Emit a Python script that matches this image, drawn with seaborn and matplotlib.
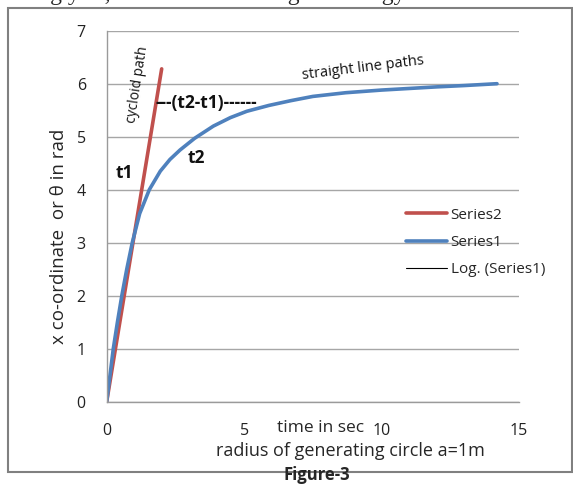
import numpy as np
import pandas as pd
import seaborn as sns
import matplotlib.pyplot as plt
from matplotlib.lines import Line2D
from matplotlib.patches import Rectangle

# data
series2_t = [0, 2.0]
series2_theta = [0, 6.28]
series1_t = [0, 0.12, 0.24, 0.39, 0.55, 0.73, 0.93, 1.2, 1.55, 1.95, 2.3, 2.67, 3.2, 3.88,
             4.5, 5.1, 5.9, 6.7, 7.5, 8.7, 10.0, 11.0, 12.0, 13.0, 14.2]
series1_theta = [0, 0.5, 1.0, 1.5, 2.0, 2.5, 3.0, 3.55, 4.0, 4.35, 4.57, 4.75, 4.97, 5.2,
                 5.36, 5.48, 5.59, 5.68, 5.76, 5.83, 5.88, 5.91, 5.94, 5.965, 6.0]
x_ticks = [0, 5, 10, 15]
y_ticks = [0, 1, 2, 3, 4, 5, 6, 7]

df1 = pd.DataFrame({'t': series1_t, 'theta': series1_theta})
df2 = pd.DataFrame({'t': series2_t, 'theta': series2_theta})

sns.set_theme(style='white')
plt.rcParams['font.family'] = ['Open Sans', 'DejaVu Sans']

W, H = 573, 484
fig = plt.figure(figsize=(W / 100, H / 100), dpi=100)


def fx(px):
    return px / W


def fy(py):
    return 1 - py / H


ax = fig.add_axes([fx(106.7), fy(401.7), fx(519) - fx(106.7), fy(30.7) - fy(401.7)])

red = '#C0504D'
blue = '#4F81BD'
sns.lineplot(data=df2, x='t', y='theta', ax=ax, color=red, lw=2.6, sort=False,
             solid_capstyle='round')
sns.lineplot(data=df1, x='t', y='theta', ax=ax, color=blue, lw=2.6, sort=False,
             solid_capstyle='round', solid_joinstyle='round')

ax.set_xlim(0, 15)
ax.set_ylim(0, 7)
ax.set_xticks(x_ticks)
ax.set_yticks(y_ticks)
ax.set_xlabel('')
ax.set_ylabel('')
ax.grid(axis='y', color='#a6a6a6', lw=1)
ax.set_axisbelow(True)
for s in ['top', 'right']:
    ax.spines[s].set_visible(False)
for s in ['left', 'bottom']:
    ax.spines[s].set_color('#9a9a9a')
    ax.spines[s].set_linewidth(1)
ax.tick_params(axis='both', direction='out', length=6, color='#9a9a9a', width=1,
               labelsize=11.5, labelcolor='#222222', pad=9)
ax.tick_params(axis='y', pad=9)

# annotations
ax.text(1.12, 5.99, 'cycloid path', rotation=81, fontsize=10, ha='center', va='center', color='#111111')
ax.text(1.76, 5.63, '---(t2-t1)------', fontsize=12.5, fontweight='bold', ha='left', va='center', color='#111111')
ax.text(0.64, 4.31, 't1', fontsize=12.5, fontweight='bold', ha='center', va='center', color='#111111')
ax.text(3.25, 4.59, 't2', fontsize=12.5, fontweight='bold', ha='center', va='center', color='#111111')
ax.text(9.32, 6.30, 'straight line paths', rotation=7, fontsize=10.5, ha='center', va='center', color='#111111')

handles = [Line2D([], [], color=red, lw=2.6),
           Line2D([], [], color=blue, lw=2.6),
           Line2D([], [], color='black', lw=0.8)]
ax.legend(handles, ['Series2', 'Series1', 'Log. (Series1)'], loc='upper left',
          bbox_to_anchor=(fx(398), fy(200)), bbox_transform=fig.transFigure,
          frameon=False, fontsize=11, handlelength=2.7, handletextpad=0.25,
          labelspacing=0.8, borderpad=0)

# axis titles
fig.text(fx(59), fy(236), 'x co-ordinate  or θ in rad', rotation=90, ha='center', va='center', fontsize=13.5)
fig.text(fx(321), fy(428), 'time in sec', ha='center', va='center', fontsize=12.5)
fig.text(fx(350), fy(451), 'radius of generating circle a=1m', ha='center', va='center', fontsize=13)

# document frame and surrounding text
fig.patches.append(Rectangle((fx(7.5), fy(472)), fx(571.5) - fx(7.5), fy(8.3) - fy(472),
                             transform=fig.transFigure, fill=False, ec='#808080', lw=1.5))
fig.text(fx(317), fy(475.5), 'Figure-3', ha='center', va='center', fontsize=12, fontweight='bold')
fig.text(fx(3), fy(0), 'Along y=0, there is no exchange of energy.', ha='left', va='baseline',
         fontsize=17, family='Liberation Serif')

fig.savefig('out.png', dpi=100)
